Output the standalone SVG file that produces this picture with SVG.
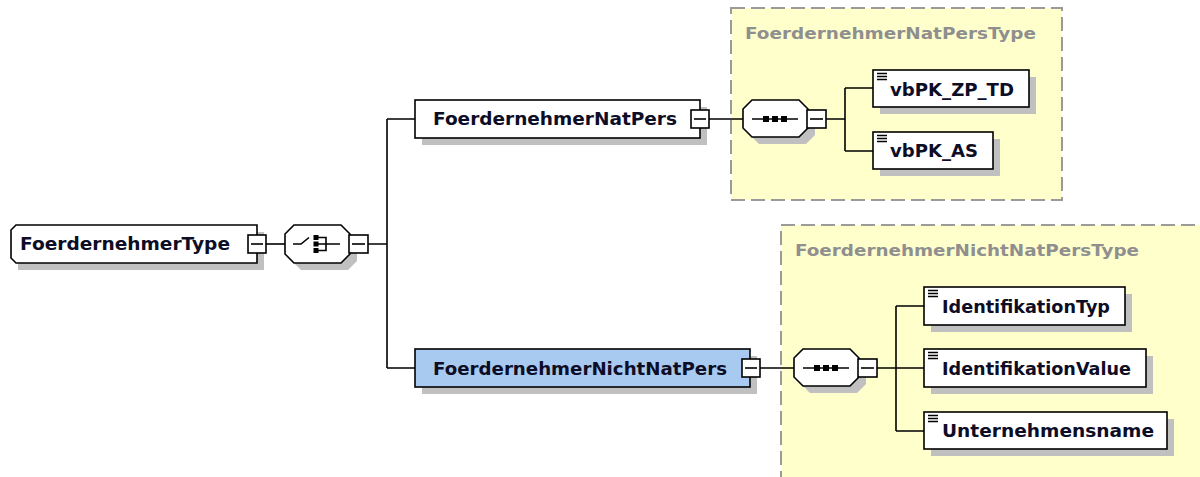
<svg xmlns="http://www.w3.org/2000/svg" width="1200" height="477" viewBox="0 0 1200 477">
<style>
.bg{fill:#ffffff}
.grp{fill:#ffffcc;stroke:#9a9a9a;stroke-width:2;stroke-dasharray:14 6}
.gt{font-family:"DejaVu Sans",Verdana,sans-serif;font-weight:bold;font-size:16.5px;fill:#8f8f8f}
.sh{fill:#c0c0c0;stroke:none}
.box{fill:#ffffff;stroke:#000;stroke-width:1.6}
.blue{fill:#a9caf0}
.t{font-family:"DejaVu Sans",Verdana,sans-serif;font-weight:bold;font-size:17px;fill:#0d0d26}
.ln{fill:none;stroke:#000;stroke-width:1.6}
.mb{fill:#ffffff;stroke:#000;stroke-width:1.6}
.ic{stroke:#000;stroke-width:1.3}
.dot{fill:#000}
</style>
<rect class="bg" x="0" y="0" width="1200" height="477"/>

<g id="FoerdernehmerNatPersType">
<rect class="grp" x="731" y="8" width="331" height="192"/>
<text class="gt" x="745" y="39" textLength="291" lengthAdjust="spacingAndGlyphs">FoerdernehmerNatPersType</text>
</g>
<g id="FoerdernehmerNichtNatPersType">
<rect class="grp" x="781" y="225" width="440" height="270"/>
<text class="gt" x="795" y="256" textLength="344" lengthAdjust="spacingAndGlyphs">FoerdernehmerNichtNatPersType</text>
</g>

<g id="connectors">
<path class="ln" d="M266,244 H285"/>
<path class="ln" d="M368,244 H387 M387,119 V368 M387,119 H415 M387,368 H415"/>
<path class="ln" d="M709,119 H743 M826,119 H845 M845,88 V151 M845,88 H873 M845,151 H873"/>
<path class="ln" d="M760,368 H794 M877,368 H896 M896,306 V431 M896,306 H924 M896,368 H924 M896,431 H924"/>
</g>

<g id="FoerdernehmerType">
<path class="sh" d="M23,232 H264 V270 H18 V237 Z"/>
<path class="box" d="M16,225 H257 V263 H16 L11,258 V230 Z"/>
<text class="t" x="20" y="250" textLength="210" lengthAdjust="spacingAndGlyphs">FoerdernehmerType</text>
<rect class="mb" x="248" y="235" width="18" height="18"/>
<path class="ln" d="M251,244 H263"/>
</g>

<g id="choice">
<path class="sh" d="M301,232 H348 L357,241 V261 L348,270 H301 L292,261 V241 Z"/>
<path class="box" d="M294,225 H341 L350,234 V254 L341,263 H294 L285,254 V234 Z"/>
<path class="ln" d="M293,244 H301 L309,237.5"/>
<rect class="dot" x="313.5" y="235" width="5" height="5"/>
<rect class="dot" x="313.5" y="241.5" width="5" height="5"/>
<rect class="dot" x="313.5" y="248" width="5" height="5"/>
<path class="ln" d="M318,237.5 H326 V250.5 H318 M318,244 H340"/>
<rect class="mb" x="349" y="235" width="19" height="18"/>
<path class="ln" d="M352,244 H365"/>
</g>

<g id="FoerdernehmerNatPers">
<rect class="sh" x="422" y="107" width="285" height="38"/>
<rect class="box" x="415" y="100" width="285" height="38"/>
<text class="t" x="433" y="125" textLength="244" lengthAdjust="spacingAndGlyphs">FoerdernehmerNatPers</text>
<rect class="mb" x="691" y="110" width="18" height="18"/>
<path class="ln" d="M694,119 H706"/>
</g>

<g id="sequence1">
<path class="sh" d="M759,107 H806 L815,116 V135 L806,144 H759 L750,135 V116 Z"/>
<path class="box" d="M752,100 H799 L808,109 V128 L799,137 H752 L743,128 V109 Z"/>
<path class="ln" d="M752,119 H798"/>
<rect class="dot" x="763" y="116" width="6" height="6"/>
<rect class="dot" x="772" y="116" width="6" height="6"/>
<rect class="dot" x="781" y="116" width="6" height="6"/>
<rect class="mb" x="807" y="110" width="19" height="18"/>
<path class="ln" d="M810,119 H823"/>
</g>

<g id="vbPK_ZP_TD">
<rect class="sh" x="880" y="77" width="156" height="37"/>
<rect class="box" x="873" y="70" width="156" height="37"/>
<path class="ic" d="M877,73.5 H887 M877,76.5 H887 M877,79.5 H887"/>
<text class="t" x="890" y="96" textLength="124" lengthAdjust="spacingAndGlyphs">vbPK_ZP_TD</text>
</g>

<g id="vbPK_AS">
<rect class="sh" x="880" y="139" width="120" height="37"/>
<rect class="box" x="873" y="132" width="120" height="37"/>
<path class="ic" d="M877,135.5 H887 M877,138.5 H887 M877,141.5 H887"/>
<text class="t" x="890" y="157" textLength="88" lengthAdjust="spacingAndGlyphs">vbPK_AS</text>
</g>

<g id="FoerdernehmerNichtNatPers">
<rect class="sh" x="422" y="356" width="335" height="38"/>
<rect class="box blue" x="415" y="349" width="335" height="38"/>
<text class="t" x="433" y="375" textLength="294" lengthAdjust="spacingAndGlyphs">FoerdernehmerNichtNatPers</text>
<rect class="mb" x="742" y="359" width="18" height="18"/>
<path class="ln" d="M745,368 H757"/>
</g>

<g id="sequence2">
<path class="sh" d="M810,356 H857 L866,365 V384 L857,393 H810 L801,384 V365 Z"/>
<path class="box" d="M803,349 H850 L859,358 V377 L850,386 H803 L794,377 V358 Z"/>
<path class="ln" d="M803,368 H849"/>
<rect class="dot" x="814" y="365" width="6" height="6"/>
<rect class="dot" x="823" y="365" width="6" height="6"/>
<rect class="dot" x="832" y="365" width="6" height="6"/>
<rect class="mb" x="858" y="359" width="19" height="18"/>
<path class="ln" d="M861,368 H874"/>
</g>

<g id="IdentifikationTyp">
<rect class="sh" x="931" y="294" width="201" height="38"/>
<rect class="box" x="924" y="287" width="201" height="38"/>
<path class="ic" d="M928,290.5 H938 M928,293.5 H938 M928,296.5 H938"/>
<text class="t" x="942" y="313" textLength="168" lengthAdjust="spacingAndGlyphs">IdentifikationTyp</text>
</g>

<g id="IdentifikationValue">
<rect class="sh" x="931" y="356" width="222" height="38"/>
<rect class="box" x="924" y="349" width="222" height="38"/>
<path class="ic" d="M928,352.5 H938 M928,355.5 H938 M928,358.5 H938"/>
<text class="t" x="942" y="375" textLength="189" lengthAdjust="spacingAndGlyphs">IdentifikationValue</text>
</g>

<g id="Unternehmensname">
<rect class="sh" x="931" y="419" width="243" height="37"/>
<rect class="box" x="924" y="412" width="243" height="37"/>
<path class="ic" d="M928,415.5 H938 M928,418.5 H938 M928,421.5 H938"/>
<text class="t" x="942" y="437" textLength="212" lengthAdjust="spacingAndGlyphs">Unternehmensname</text>
</g>
</svg>
